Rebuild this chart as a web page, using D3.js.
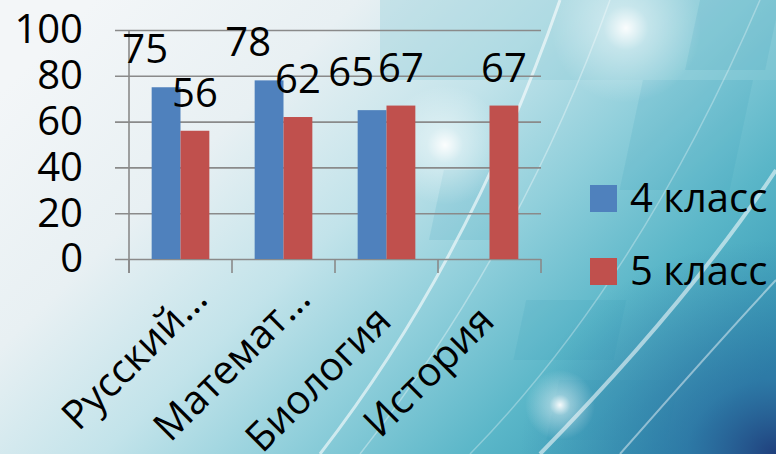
<html>
<head>
    <script src="https://d3js.org/d3.v7.min.js"></script>
    <style type="text/css">
        body { margin: 0; overflow: hidden; }
        svg { display: block; }
        text { font-family: "Open Sans", sans-serif; fill: #000; }
        .grid line { stroke: #8a8a8a; stroke-width: 1.6px; }
        .grid path { display: none; }
    </style>
</head>
<body>
    <script type="text/javascript">
        // chart data
        var categories = ["Русский…", "Математ…", "Биология", "История"];
        var seriesNames = ["4 класс", "5 класс"];
        var grade4 = [75, 78, 65, null];
        var grade5 = [56, 62, 67, 67];
        var yTicks = [0, 20, 40, 60, 80, 100];
        var colors = ["#4f81bd", "#c0504d"];

        var W = 776, H = 454;
        var svg = d3.select("body").append("svg").attr("width", W).attr("height", H);
        var defs = svg.append("defs");

        // background (slide design)
        var bg = defs.append("linearGradient").attr("id", "bg")
            .attr("x1", "0").attr("y1", "0.2").attr("x2", "1").attr("y2", "0.8");
        [["0", "#f3f6f8"], ["0.25", "#e8f0f3"], ["0.45", "#c2e3ea"], ["0.62", "#90cfdb"],
         ["0.8", "#5ab6c8"], ["1", "#3398b4"]].forEach(function (s) {
            bg.append("stop").attr("offset", s[0]).attr("stop-color", s[1]);
        });
        var glow = defs.append("radialGradient").attr("id", "glow");
        glow.append("stop").attr("offset", "0").attr("stop-color", "#fff").attr("stop-opacity", 0.95);
        glow.append("stop").attr("offset", "0.3").attr("stop-color", "#fff").attr("stop-opacity", 0.4);
        glow.append("stop").attr("offset", "1").attr("stop-color", "#fff").attr("stop-opacity", 0);
        var dark = defs.append("radialGradient").attr("id", "dark")
            .attr("cx", "1").attr("cy", "1").attr("r", "1");
        dark.append("stop").attr("offset", "0").attr("stop-color", "#1f3f7c").attr("stop-opacity", 1);
        dark.append("stop").attr("offset", "0.35").attr("stop-color", "#28609a").attr("stop-opacity", 0.55);
        dark.append("stop").attr("offset", "1").attr("stop-color", "#2a6fa0").attr("stop-opacity", 0);

        svg.append("rect").attr("width", W).attr("height", H).attr("fill", "url(#bg)");
        svg.append("rect").attr("x", 380).attr("y", 0).attr("width", 396).attr("height", 80)
            .attr("fill", "#8ccbd7").attr("opacity", 0.35);
        // translucent panels
        var panels = [[660, 80, 110, 110], [590, 300, 100, 60], [700, 0, 80, 70], [640, 380, 120, 60], [480, 170, 70, 70]];
        svg.selectAll(".panel").data(panels).enter().append("rect")
            .attr("x", function (d) { return d[0]; }).attr("y", function (d) { return d[1]; })
            .attr("width", function (d) { return d[2]; }).attr("height", function (d) { return d[3]; })
            .attr("fill", "#2f9ab6").attr("opacity", 0.14)
            .attr("transform", "skewX(-12)");
        svg.append("rect").attr("x", 520).attr("y", 240).attr("width", 256).attr("height", 214)
            .attr("fill", "url(#dark)");
        // light swooshes
        var swooshes = [
            "M 320 454 Q 470 260 560 0",
            "M 360 454 Q 520 250 610 0",
            "M 540 454 Q 690 300 776 170",
            "M 620 454 Q 720 340 776 280",
            "M 470 454 Q 640 280 760 0"
        ];
        svg.selectAll(".sw").data(swooshes).enter().append("path")
            .attr("d", function (d) { return d; })
            .attr("fill", "none").attr("stroke", "#ffffff")
            .attr("stroke-width", function (d, i) { return [3, 1.5, 4, 2, 1.5][i]; })
            .attr("opacity", function (d, i) { return [0.6, 0.35, 0.55, 0.45, 0.3][i]; });
        var glows = [[626, 28, 75], [445, 145, 60], [560, 405, 35]];
        svg.selectAll(".gl").data(glows).enter().append("circle")
            .attr("cx", function (d) { return d[0]; }).attr("cy", function (d) { return d[1]; })
            .attr("r", function (d) { return d[2]; }).attr("fill", "url(#glow)");

        // scales
        var x0 = d3.scaleBand().domain(categories).range([129, 541]).padding(0);
        var bw = x0.bandwidth();
        var x1 = d3.scaleBand().domain(seriesNames).range([bw * 0.22, bw * 0.78]).padding(0);
        var y = d3.scaleLinear().domain([0, 100]).range([259, 30]);

        // gridlines
        svg.append("g").attr("class", "grid")
            .attr("transform", "translate(115,0)")
            .call(d3.axisRight(y).tickValues(yTicks).tickSize(541 - 115).tickFormat(""));
        svg.append("line").attr("x1", 129).attr("x2", 129).attr("y1", y(100)).attr("y2", y(0) + 14)
            .attr("stroke", "#8a8a8a").attr("stroke-width", 1.6);
        var bounds = categories.map(function (c) { return x0(c); }).concat([x0.range()[1]]);
        svg.selectAll(".xt").data(bounds).enter().append("line")
            .attr("x1", function (d) { return d; }).attr("x2", function (d) { return d; })
            .attr("y1", y(0)).attr("y2", y(0) + 14)
            .attr("stroke", "#8a8a8a").attr("stroke-width", 1.6);

        // y labels
        var yAxis = svg.append("g").attr("transform", "translate(129,0)")
            .call(d3.axisLeft(y).tickValues(yTicks).tickSize(0).tickPadding(46));
        yAxis.select(".domain").remove();
        yAxis.selectAll("text").attr("font-size", 40).attr("font-family", "Open Sans, sans-serif")
            .attr("fill", "#000");

        // bars
        var rows = categories.map(function (c, i) {
            return { cat: c, vals: [grade4[i], grade5[i]] };
        });
        var group = svg.selectAll(".grp").data(rows).enter().append("g")
            .attr("transform", function (d) { return "translate(" + x0(d.cat) + ",0)"; });
        var cells = group.selectAll(".bar")
            .data(function (d) {
                return seriesNames.map(function (s, k) { return { s: s, k: k, v: d.vals[k], cat: d.cat }; })
                    .filter(function (e) { return e.v != null; });
            })
            .enter();
        cells.append("rect")
            .attr("x", function (d) { return x1(d.s); })
            .attr("y", function (d) { return y(d.v); })
            .attr("width", x1.bandwidth())
            .attr("height", function (d) { return y(0) - y(d.v); })
            .attr("fill", function (d) { return colors[d.k]; });
        var vlabels = cells.append("text")
            .attr("class", "vlab")
            .attr("x", function (d) { return x1(d.s) + x1.bandwidth() / 2; })
            .attr("y", function (d) { return y(d.v) - 24; })
            .attr("text-anchor", "middle")
            .attr("font-size", 40)
            .text(function (d) { return d.v; });

        // nudge value labels left when they would collide with the next one
        var labs = [];
        vlabels.each(function (d) {
            var b = this.getBBox();
            var off = x0(d.cat);
            labs.push({ el: this, x: b.x + off, w: b.width, y: b.y, h: b.height });
        });
        labs.sort(function (a, b) { return a.x - b.x; });
        for (var i = labs.length - 2; i >= 0; i--) {
            var a = labs[i], b = labs[i + 1];
            var vOverlap = a.y < b.y + b.h - 10 && b.y < a.y + a.h - 10;
            if (vOverlap && a.x + a.w > b.x - 4) {
                var dx = (a.x + a.w) - (b.x - 4);
                a.x -= dx;
                d3.select(a.el).attr("x", +d3.select(a.el).attr("x") - dx);
            }
        }

        // category labels (rotated)
        svg.selectAll(".cat").data(categories).enter().append("text")
            .attr("text-anchor", "end")
            .attr("font-size", 40)
            .attr("transform", function (d) {
                var cx = x0(d) + bw / 2 + 7, cy = 323;
                var s = d.slice(-1) === "…" ? 31 : 0;
                return "translate(" + (cx + s * 0.707) + "," + (cy - s * 0.707) + ") rotate(-45)";
            })
            .text(function (d) { return d; });

        // legend
        var leg = svg.selectAll(".leg").data(seriesNames).enter().append("g")
            .attr("transform", function (d, i) { return "translate(590," + (185 + i * 73) + ")"; });
        leg.append("rect").attr("width", 27).attr("height", 27)
            .attr("fill", function (d, i) { return colors[i]; });
        leg.append("text").attr("x", 40).attr("y", 27).attr("font-size", 40)
            .text(function (d) { return d; });
    </script>
</body>
</html>
